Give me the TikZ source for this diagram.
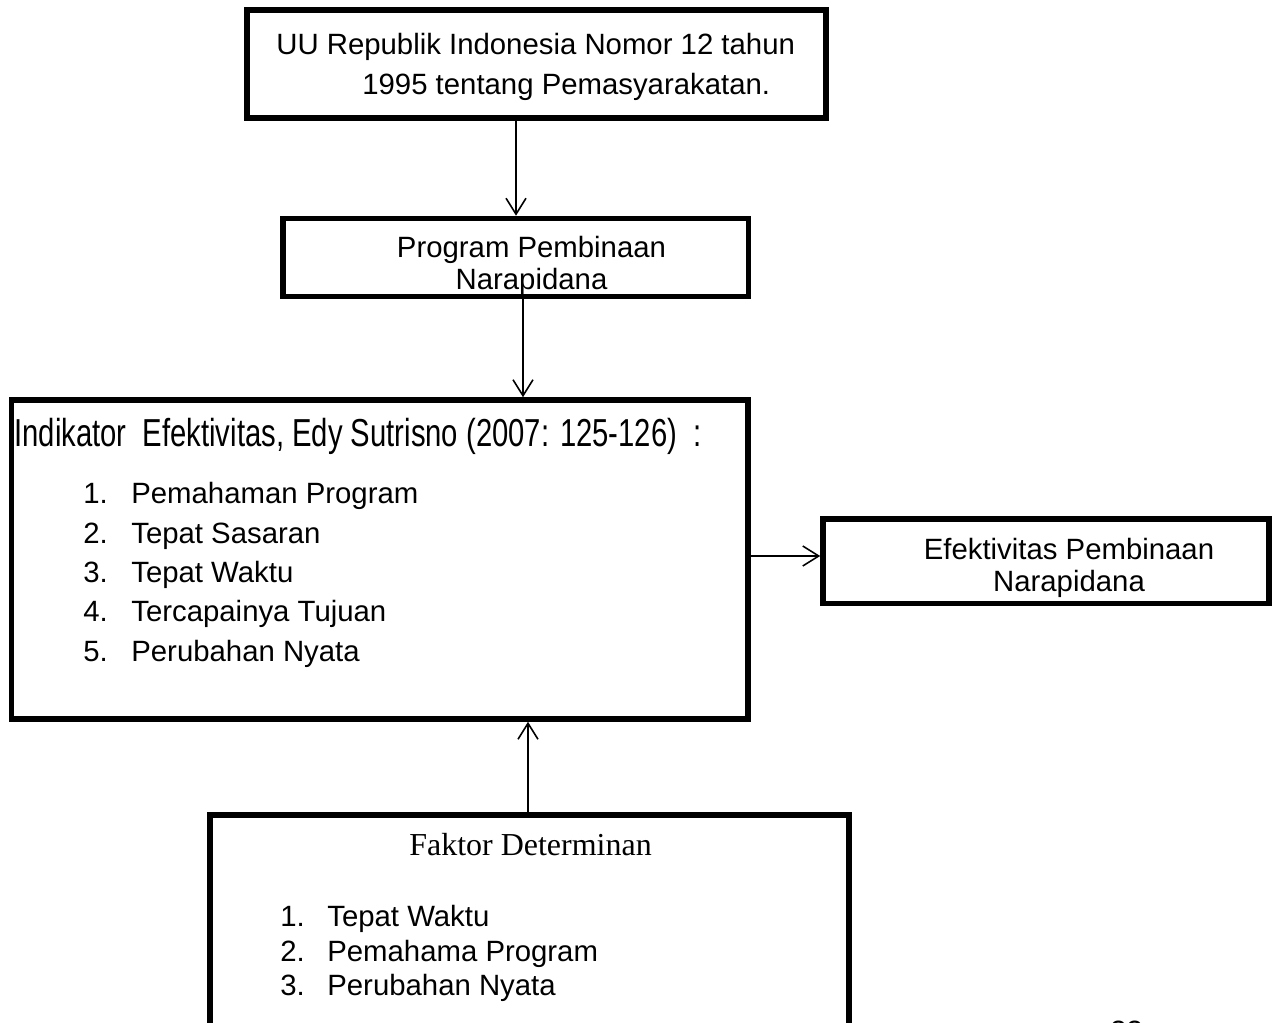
\documentclass[tikz,border=0pt]{standalone}
\usepackage{fontspec}
\usepackage{graphicx}
\setmainfont{Liberation Sans}
\newfontfamily\timesfont{Liberation Serif}
\usetikzlibrary{arrows.meta}
\newcommand\isi{\fontsize{16.7}{22.8}\selectfont}
\newcommand\isirapat{\fontsize{16.7}{18.6}\selectfont}

\begin{document}
\begin{tikzpicture}[x=0.02cm,y=-0.02cm,
    kotak/.style={draw,line width=3.2pt,inner sep=0pt,outer sep=auto},
    teks/.style={inner sep=0pt,font=\isi},
    panah/.style={-{Straight Barb[length=0.32cm,width=0.4cm]},line width=0.9pt}]
    \useasboundingbox (0,0) rectangle (1278,1023);
    % kotak
    \node[kotak,minimum width=11.58cm,minimum height=2.16cm] (uu) at (536.5,64) {};
    \node[kotak,minimum width=9.31cm,minimum height=1.56cm] (prog) at (515.75,257.5) {};
    \node[kotak,minimum width=14.73cm,minimum height=6.38cm] (ind) at (379.75,559.5) {};
    \node[kotak,minimum width=8.92cm,minimum height=1.69cm] (eff) at (1046,561.25) {};
    \node[kotak,minimum width=12.78cm,minimum height=5.3cm] (det) at (529.5,947.5) {};
    % teks (base = baris terakhir)
    \node[teks,anchor=base west,align=left] (uutxt) at (276,94.5)
        {UU Republik Indonesia Nomor 12 tahun\\\hspace*{1.72cm}1995 tentang Pemasyarakatan.};
    \node[teks,anchor=base,align=center,font=\isirapat] (progtxt) at (531.5,290)
        {Program Pembinaan\\Narapidana};
    \node[teks,anchor=base west,font=\fontsize{22.2}{26}\selectfont] (indjudul) at (14,447)
        {\scalebox{0.75}[1]{Indikator\ \ Efektivitas, Edy Sutrisno (2007: 125-126)\ \ :}};
    \foreach \no/\butir in {1/Pemahaman Program,2/Tepat Sasaran,3/Tepat Waktu,4/Tercapainya Tujuan,5/Perubahan Nyata}
        {\node[teks,anchor=base west] (ino\no) at (83,{464.75+39.25*\no}) {\no.};
         \node[teks,anchor=base west] (ibutir\no) at (131,{464.75+39.25*\no}) {\butir};
        }
    \node[teks,anchor=base,align=center,font=\isirapat] (efftxt) at (1069,592)
        {Efektivitas Pembinaan\\Narapidana};
    \node[teks,anchor=base,font=\timesfont\fontsize{18.2}{22}\selectfont] (detjudul) at (530.5,855.5)
        {Faktor Determinan};
    \foreach \no/\butir in {1/Tepat Waktu,2/Pemahama Program,3/Perubahan Nyata}
        {\node[teks,anchor=base west] (dno\no) at (280,{892+34.5*\no}) {\no.};
         \node[teks,anchor=base west] (dbutir\no) at (327,{892+34.5*\no}) {\butir};
        }
    \node[teks,anchor=north west] (hal) at (1110,1021) {33};
    % panah
    \coordinate (p1) at ([xshift=-0.41cm]uu.south);
    \coordinate (p2) at ([xshift=0.145cm]prog.south);
    \coordinate (p3) at ([yshift=0.07cm]ind.east);
    \coordinate (p4) at ([xshift=-0.03cm]det.north);
    \draw[panah] (p1) -- (p1 |- prog.north);
    \draw[panah] (p2) -- (p2 |- ind.north);
    \draw[panah] (p3) -- (p3 -| eff.west);
    \draw[panah] (p4) -- (p4 |- ind.south);
\end{tikzpicture}
\end{document}
